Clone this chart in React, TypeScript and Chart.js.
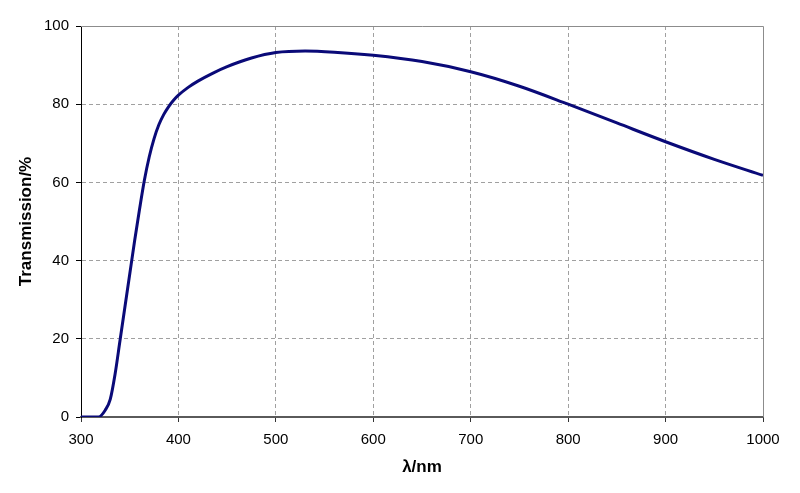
import React, { useEffect, useRef } from "react";
import { Chart, registerables } from "chart.js";

Chart.register(...registerables);

const wavelengths = [300, 310, 318, 325, 330, 335, 340, 345, 350, 355, 360, 365, 370, 375, 380, 385, 390, 395, 400, 410, 420, 435, 450, 475, 500, 530, 560, 600, 650, 700, 750, 800, 850, 900, 950, 1000];
const transmission = [0, 0, 0, 1.8, 4.5, 11, 19.5, 28, 36.5, 45, 53, 60.5, 66.5, 71.2, 74.8, 77.4, 79.4, 81, 82.3, 84.3, 85.9, 87.9, 89.6, 91.8, 93.2, 93.6, 93.3, 92.5, 90.9, 88.3, 84.6, 80.0, 75.2, 70.4, 65.9, 61.8];
const xTicks = [300, 400, 500, 600, 700, 800, 900, 1000];
const yTicks = [0, 20, 40, 60, 80, 100];
const xTitle = "λ/nm";
const yTitle = "Transmission/%";

const FONT = "Liberation Sans, Arial, Helvetica, sans-serif";

export default function App() {
  const ref = useRef<HTMLCanvasElement | null>(null);
  useEffect(() => {
    document.body.style.margin = "0";
    const canvas = ref.current!;
    const frame = {
      id: "frame",
      afterDatasetsDraw(chart: any) {
        const { ctx, chartArea } = chart;
        ctx.save();
        ctx.strokeStyle = "#8c8c8c";
        ctx.lineWidth = 1;
        ctx.setLineDash([]);
        ctx.beginPath();
        ctx.moveTo(chartArea.left, Math.round(chartArea.top) + 0.5);
        ctx.lineTo(Math.round(chartArea.right) + 0.5, Math.round(chartArea.top) + 0.5);
        ctx.lineTo(Math.round(chartArea.right) + 0.5, chartArea.bottom);
        ctx.stroke();
        ctx.restore();
      },
    };
    const chart = new Chart(canvas, {
      type: "line",
      data: {
        datasets: [
          {
            data: wavelengths.map((w, i) => ({ x: w, y: transmission[i] })),
            borderColor: "#0a0a78",
            borderWidth: 3,
            pointRadius: 0,
            cubicInterpolationMode: "monotone",
            fill: false,
          },
        ],
      },
      options: {
        animation: false,
        responsive: false,
        maintainAspectRatio: false,
        layout: { padding: { top: 26, right: 37, left: 12, bottom: 11 } },
        plugins: { legend: { display: false }, tooltip: { enabled: false } },
        scales: {
          x: {
            type: "linear",
            min: 300,
            max: 1000,
            afterBuildTicks: (s: any) => {
              s.ticks = xTicks.map((v) => ({ value: v }));
            },
            afterFit: (s: any) => {
              s.height = 65;
            },
            ticks: {
              color: "#000",
              font: { family: FONT, size: 15 },
              padding: 9,
              maxRotation: 0,
              callback: (v: any) => String(v),
            },
            grid: {
              color: (c: any) => (c.tick && (c.tick.value === 300 || c.tick.value === 1000) ? "rgba(0,0,0,0)" : "#a0a0a0"),
              lineWidth: 1,
              tickColor: "#333",
              tickLength: 5,
            },
            border: { display: true, color: "#5a5a5a", width: 2, dash: [4, 3] },
            title: {
              display: true,
              text: xTitle,
              color: "#000",
              font: { family: FONT, size: 17, weight: "bold" },
              padding: { top: 4, bottom: 4 },
            },
          },
          y: {
            min: 0,
            max: 100,
            afterBuildTicks: (s: any) => {
              s.ticks = yTicks.map((v) => ({ value: v }));
            },
            afterFit: (s: any) => {
              s.width = 69;
            },
            ticks: {
              color: "#000",
              font: { family: FONT, size: 15 },
              padding: 7,
              callback: (v: any) => String(v),
            },
            grid: {
              color: (c: any) => (c.tick && (c.tick.value === 0 || c.tick.value === 100) ? "rgba(0,0,0,0)" : "#a0a0a0"),
              lineWidth: 1,
              tickColor: "#000",
              tickLength: 5,
            },
            border: { display: true, color: "#000", width: 1, dash: [4, 3] },
            title: {
              display: true,
              text: yTitle,
              color: "#000",
              font: { family: FONT, size: 17, weight: "bold" },
              padding: { top: 4, bottom: 4 },
            },
          },
        },
      },
      plugins: [frame],
    } as any);
    return () => chart.destroy();
  }, []);
  return (
    <div style={{ position: "absolute", left: 0, top: 0, width: 800, height: 493, background: "#fff" }}>
      <canvas ref={ref} width={800} height={493} style={{ width: 800, height: 493 }} />
    </div>
  );
}
